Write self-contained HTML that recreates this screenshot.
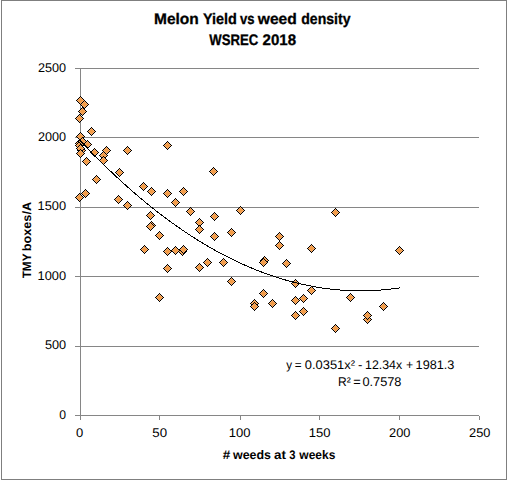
<!DOCTYPE html>
<html><head><meta charset="utf-8"><title>Melon Yield vs weed density</title><style>
html,body{margin:0;padding:0;background:#fff;width:507px;height:480px;overflow:hidden}
body{position:relative}
text{font-family:'Liberation Sans',sans-serif;text-rendering:geometricPrecision}
</style></head><body>
<svg width="507" height="480" viewBox="0 0 507 480" style="position:absolute;left:0;top:0;display:block"><defs><g id="m"><path d="M0 -2h1v1h-1zM-1 -1h1v1h-1zM0 -1h1v1h-1zM1 -1h1v1h-1zM-2 0h1v1h-1zM-1 0h1v1h-1zM0 0h1v1h-1zM1 0h1v1h-1zM2 0h1v1h-1zM-1 1h1v1h-1zM0 1h1v1h-1zM1 1h1v1h-1zM0 2h1v1h-1z" fill="#F29C48"/><path d="M0 -3h1v1h-1zM-1 -2h1v1h-1zM1 -2h1v1h-1zM-2 -1h1v1h-1zM2 -1h1v1h-1zM-3 0h1v1h-1zM3 0h1v1h-1zM-2 1h1v1h-1zM2 1h1v1h-1zM-1 2h1v1h-1zM1 2h1v1h-1zM0 3h1v1h-1z" fill="#F5AE70"/><path d="M0 -4h1v1h-1zM-1 -3h1v1h-1zM1 -3h1v1h-1zM-2 -2h1v1h-1zM2 -2h1v1h-1zM-3 -1h1v1h-1zM3 -1h1v1h-1zM-4 0h1v1h-1zM4 0h1v1h-1zM-3 1h1v1h-1zM3 1h1v1h-1zM-2 2h1v1h-1zM2 2h1v1h-1zM-1 3h1v1h-1zM1 3h1v1h-1zM0 4h1v1h-1z" fill="#000000"/></g></defs><rect x="0" y="0" width="507" height="480" fill="#fff"/><g shape-rendering="crispEdges" fill="#7f7f7f"><rect x="1" y="0" width="506" height="1"/><rect x="1" y="479" width="506" height="1"/><rect x="1" y="0" width="1" height="480"/><rect x="506" y="0" width="1" height="480"/></g><g shape-rendering="crispEdges" fill="#868686"><rect x="75" y="68" width="404" height="1"/><rect x="75" y="137" width="404" height="1"/><rect x="75" y="207" width="404" height="1"/><rect x="75" y="276" width="404" height="1"/><rect x="75" y="346" width="404" height="1"/><rect x="75" y="415" width="404" height="1"/><rect x="80" y="68" width="1" height="352"/><rect x="159" y="416" width="1" height="4"/><rect x="240" y="416" width="1" height="4"/><rect x="319" y="416" width="1" height="4"/><rect x="399" y="416" width="1" height="4"/><rect x="479" y="416" width="1" height="4"/></g><g><use href="#m" x="80" y="100"/><use href="#m" x="84" y="104"/><use href="#m" x="82" y="111"/><use href="#m" x="79" y="118"/><use href="#m" x="91" y="131"/><use href="#m" x="80" y="136"/><use href="#m" x="79" y="143"/><use href="#m" x="80" y="144"/><use href="#m" x="79" y="145"/><use href="#m" x="82" y="141"/><use href="#m" x="87" y="144"/><use href="#m" x="81" y="150"/><use href="#m" x="80" y="148"/><use href="#m" x="80" y="153"/><use href="#m" x="94" y="152"/><use href="#m" x="106" y="150"/><use href="#m" x="103" y="155"/><use href="#m" x="103" y="160"/><use href="#m" x="86" y="161"/><use href="#m" x="127" y="150"/><use href="#m" x="167" y="145"/><use href="#m" x="213" y="171"/><use href="#m" x="119" y="172"/><use href="#m" x="96" y="179"/><use href="#m" x="85" y="193"/><use href="#m" x="79" y="197"/><use href="#m" x="118" y="199"/><use href="#m" x="127" y="205"/><use href="#m" x="143" y="186"/><use href="#m" x="151" y="191"/><use href="#m" x="167" y="193"/><use href="#m" x="183" y="191"/><use href="#m" x="175" y="202"/><use href="#m" x="190" y="211"/><use href="#m" x="150" y="215"/><use href="#m" x="151" y="225"/><use href="#m" x="150" y="226"/><use href="#m" x="159" y="235"/><use href="#m" x="199" y="222"/><use href="#m" x="199" y="229"/><use href="#m" x="214" y="216"/><use href="#m" x="214" y="236"/><use href="#m" x="240" y="210"/><use href="#m" x="231" y="232"/><use href="#m" x="279" y="236"/><use href="#m" x="279" y="245"/><use href="#m" x="223" y="262"/><use href="#m" x="264" y="260"/><use href="#m" x="263" y="262"/><use href="#m" x="286" y="263"/><use href="#m" x="231" y="281"/><use href="#m" x="263" y="293"/><use href="#m" x="144" y="249"/><use href="#m" x="167" y="251"/><use href="#m" x="175" y="250"/><use href="#m" x="182" y="251"/><use href="#m" x="183" y="249"/><use href="#m" x="167" y="268"/><use href="#m" x="199" y="267"/><use href="#m" x="207" y="262"/><use href="#m" x="159" y="297"/><use href="#m" x="335" y="212"/><use href="#m" x="311" y="248"/><use href="#m" x="295" y="283"/><use href="#m" x="311" y="290"/><use href="#m" x="272" y="303"/><use href="#m" x="295" y="300"/><use href="#m" x="303" y="298"/><use href="#m" x="295" y="315"/><use href="#m" x="303" y="311"/><use href="#m" x="335" y="328"/><use href="#m" x="399" y="250"/><use href="#m" x="350" y="297"/><use href="#m" x="383" y="306"/><use href="#m" x="367" y="319"/><use href="#m" x="367" y="315"/><use href="#m" x="254" y="303"/><use href="#m" x="254" y="306"/></g><polyline points="80.00,140.25 80.80,141.10 81.60,141.95 82.39,142.80 83.19,143.65 83.99,144.50 84.79,145.34 85.59,146.18 86.38,147.02 87.18,147.85 87.98,148.69 88.78,149.52 89.58,150.35 90.37,151.17 91.17,152.00 91.97,152.82 92.77,153.64 93.57,154.45 94.36,155.27 95.16,156.08 95.96,156.89 96.76,157.69 97.56,158.50 98.35,159.30 99.15,160.10 99.95,160.89 100.75,161.69 101.55,162.48 102.34,163.27 103.14,164.06 103.94,164.84 104.74,165.62 105.54,166.40 106.33,167.18 107.13,167.96 107.93,168.73 108.73,169.50 109.53,170.26 110.32,171.03 111.12,171.79 111.92,172.55 112.72,173.31 113.52,174.07 114.31,174.82 115.11,175.57 115.91,176.32 116.71,177.06 117.51,177.81 118.30,178.55 119.10,179.28 119.90,180.02 120.70,180.75 121.50,181.48 122.29,182.21 123.09,182.94 123.89,183.66 124.69,184.38 125.49,185.10 126.28,185.82 127.08,186.53 127.88,187.24 128.68,187.95 129.48,188.66 130.27,189.36 131.07,190.07 131.87,190.77 132.67,191.46 133.47,192.16 134.26,192.85 135.06,193.54 135.86,194.23 136.66,194.91 137.46,195.59 138.25,196.27 139.05,196.95 139.85,197.62 140.65,198.30 141.45,198.97 142.24,199.63 143.04,200.30 143.84,200.96 144.64,201.62 145.44,202.28 146.23,202.94 147.03,203.59 147.83,204.24 148.63,204.89 149.43,205.53 150.22,206.18 151.02,206.82 151.82,207.46 152.62,208.09 153.42,208.73 154.21,209.36 155.01,209.98 155.81,210.61 156.61,211.23 157.41,211.86 158.20,212.47 159.00,213.09 159.80,213.71 160.60,214.32 161.40,214.93 162.19,215.53 162.99,216.14 163.79,216.74 164.59,217.34 165.39,217.94 166.18,218.53 166.98,219.12 167.78,219.71 168.58,220.30 169.38,220.88 170.17,221.47 170.97,222.05 171.77,222.62 172.57,223.20 173.37,223.77 174.16,224.34 174.96,224.91 175.76,225.47 176.56,226.04 177.36,226.60 178.15,227.16 178.95,227.71 179.75,228.26 180.55,228.81 181.35,229.36 182.14,229.91 182.94,230.45 183.74,230.99 184.54,231.53 185.34,232.07 186.13,232.60 186.93,233.13 187.73,233.66 188.53,234.19 189.33,234.71 190.12,235.23 190.92,235.75 191.72,236.27 192.52,236.78 193.32,237.29 194.11,237.80 194.91,238.31 195.71,238.82 196.51,239.32 197.31,239.82 198.10,240.31 198.90,240.81 199.70,241.30 200.50,241.79 201.30,242.28 202.09,242.76 202.89,243.25 203.69,243.73 204.49,244.20 205.29,244.68 206.08,245.15 206.88,245.62 207.68,246.09 208.48,246.55 209.28,247.02 210.07,247.48 210.87,247.94 211.67,248.39 212.47,248.84 213.27,249.30 214.06,249.74 214.86,250.19 215.66,250.63 216.46,251.07 217.26,251.51 218.05,251.95 218.85,252.38 219.65,252.81 220.45,253.24 221.25,253.67 222.04,254.09 222.84,254.52 223.64,254.93 224.44,255.35 225.24,255.77 226.03,256.18 226.83,256.59 227.63,256.99 228.43,257.40 229.23,257.80 230.02,258.20 230.82,258.60 231.62,258.99 232.42,259.38 233.22,259.77 234.01,260.16 234.81,260.55 235.61,260.93 236.41,261.31 237.21,261.69 238.00,262.06 238.80,262.44 239.60,262.81 240.40,263.17 241.20,263.54 241.99,263.90 242.79,264.26 243.59,264.62 244.39,264.98 245.19,265.33 245.98,265.68 246.78,266.03 247.58,266.38 248.38,266.72 249.18,267.06 249.97,267.40 250.77,267.74 251.57,268.07 252.37,268.40 253.17,268.73 253.96,269.06 254.76,269.38 255.56,269.70 256.36,270.02 257.16,270.34 257.95,270.65 258.75,270.97 259.55,271.27 260.35,271.58 261.15,271.89 261.94,272.19 262.74,272.49 263.54,272.79 264.34,273.08 265.14,273.37 265.93,273.66 266.73,273.95 267.53,274.24 268.33,274.52 269.13,274.80 269.92,275.08 270.72,275.35 271.52,275.63 272.32,275.90 273.12,276.16 273.91,276.43 274.71,276.69 275.51,276.95 276.31,277.21 277.11,277.47 277.90,277.72 278.70,277.97 279.50,278.22 280.30,278.47 281.10,278.71 281.89,278.95 282.69,279.19 283.49,279.43 284.29,279.66 285.09,279.89 285.88,280.12 286.68,280.35 287.48,280.57 288.28,280.80 289.08,281.01 289.87,281.23 290.67,281.45 291.47,281.66 292.27,281.87 293.07,282.08 293.86,282.28 294.66,282.48 295.46,282.68 296.26,282.88 297.06,283.07 297.85,283.27 298.65,283.46 299.45,283.65 300.25,283.83 301.05,284.01 301.84,284.19 302.64,284.37 303.44,284.55 304.24,284.72 305.04,284.89 305.83,285.06 306.63,285.23 307.43,285.39 308.23,285.55 309.03,285.71 309.82,285.86 310.62,286.02 311.42,286.17 312.22,286.32 313.02,286.46 313.81,286.61 314.61,286.75 315.41,286.89 316.21,287.03 317.01,287.16 317.80,287.29 318.60,287.42 319.40,287.55 320.20,287.67 321.00,287.79 321.79,287.91 322.59,288.03 323.39,288.14 324.19,288.26 324.99,288.37 325.78,288.47 326.58,288.58 327.38,288.68 328.18,288.78 328.98,288.88 329.77,288.97 330.57,289.07 331.37,289.16 332.17,289.25 332.97,289.33 333.76,289.41 334.56,289.49 335.36,289.57 336.16,289.65 336.96,289.72 337.75,289.79 338.55,289.86 339.35,289.93 340.15,289.99 340.95,290.05 341.74,290.11 342.54,290.17 343.34,290.22 344.14,290.27 344.94,290.32 345.73,290.37 346.53,290.41 347.33,290.45 348.13,290.49 348.93,290.53 349.72,290.56 350.52,290.59 351.32,290.62 352.12,290.65 352.92,290.67 353.71,290.70 354.51,290.72 355.31,290.73 356.11,290.75 356.91,290.76 357.70,290.77 358.50,290.78 359.30,290.78 360.10,290.79 360.90,290.79 361.69,290.78 362.49,290.78 363.29,290.77 364.09,290.76 364.89,290.75 365.68,290.74 366.48,290.72 367.28,290.70 368.08,290.68 368.88,290.65 369.67,290.63 370.47,290.60 371.27,290.57 372.07,290.53 372.87,290.50 373.66,290.46 374.46,290.42 375.26,290.37 376.06,290.33 376.86,290.28 377.65,290.23 378.45,290.17 379.25,290.12 380.05,290.06 380.85,290.00 381.64,289.93 382.44,289.87 383.24,289.80 384.04,289.73 384.84,289.66 385.63,289.58 386.43,289.50 387.23,289.42 388.03,289.34 388.83,289.26 389.62,289.17 390.42,289.08 391.22,288.99 392.02,288.89 392.82,288.79 393.61,288.69 394.41,288.59 395.21,288.49 396.01,288.38 396.81,288.27 397.60,288.16 398.40,288.05 399.20,287.93 400.00,287.81" fill="none" stroke="#000" stroke-width="1" shape-rendering="crispEdges"/><g fill="#000000" style="font-family:'Liberation Sans',sans-serif"><text transform="translate(153.987,24.000) scale(1.0130,1.0)" stroke="#000" stroke-width="0.3" font-size="15.3" font-weight="bold">Melon</text><text transform="translate(202.946,24.000) scale(0.9444,1.0)" stroke="#000" stroke-width="0.3" font-size="15.3" font-weight="bold">Yield</text><text transform="translate(239.993,24.000) scale(0.8554,1.0)" stroke="#000" stroke-width="0.3" font-size="15.3" font-weight="bold">vs</text><text transform="translate(257.800,24.000) scale(1.0201,1.0)" stroke="#000" stroke-width="0.3" font-size="15.3" font-weight="bold">weed</text><text transform="translate(301.224,24.000) scale(0.9213,1.0)" stroke="#000" stroke-width="0.3" font-size="15.3" font-weight="bold">density</text><text transform="translate(209.300,45.000) scale(0.8602,1.0)" stroke="#000" stroke-width="0.3" font-size="15.3" font-weight="bold">WSREC</text><text transform="translate(262.508,45.000) scale(0.9842,1.0)" stroke="#000" stroke-width="0.3" font-size="15.3" font-weight="bold">2018</text><text transform="translate(37.972,71.800) scale(1.0047,1.0)" font-size="12.6" font-weight="normal">2500</text><text transform="translate(37.972,140.700) scale(1.0047,1.0)" font-size="12.6" font-weight="normal">2000</text><text transform="translate(37.581,210.000) scale(1.0189,1.0)" font-size="12.6" font-weight="normal">1500</text><text transform="translate(37.581,279.600) scale(1.0189,1.0)" font-size="12.6" font-weight="normal">1000</text><text transform="translate(44.895,349.000) scale(1.0100,1.0)" font-size="12.6" font-weight="normal">500</text><text transform="translate(59.317,418.900) scale(0.9667,1.0)" font-size="12.6" font-weight="normal">0</text><text transform="translate(76.083,436.700) scale(1.0333,1.0)" font-size="12.6" font-weight="normal">0</text><text transform="translate(152.273,436.700) scale(1.0538,1.0)" font-size="12.6" font-weight="normal">50</text><text transform="translate(228.664,436.700) scale(1.0359,1.0)" font-size="12.6" font-weight="normal">100</text><text transform="translate(308.664,436.700) scale(1.0359,1.0)" font-size="12.6" font-weight="normal">150</text><text transform="translate(389.065,436.700) scale(1.0164,1.0)" font-size="12.6" font-weight="normal">200</text><text transform="translate(469.065,436.700) scale(1.0164,1.0)" font-size="12.6" font-weight="normal">250</text><text transform="translate(222.731,458.900) scale(1.0769,1.0)" font-size="12.5" font-weight="bold">#</text><text transform="translate(233.000,458.900) scale(0.9940,1.0)" font-size="12.5" font-weight="bold">weeds</text><text transform="translate(274.098,458.900) scale(1.0729,1.0)" font-size="12.5" font-weight="bold">at</text><text transform="translate(289.163,458.900) scale(0.8980,1.0)" font-size="12.5" font-weight="bold">3</text><text transform="translate(299.300,458.900) scale(0.9622,1.0)" font-size="12.5" font-weight="bold">weeks</text><text transform="translate(286.283,368.900) scale(0.9333,1.0)" font-size="12.5" font-weight="normal">y</text><text transform="translate(294.817,368.900) scale(0.9333,1.0)" font-size="12.5" font-weight="normal">=</text><text transform="translate(304.784,368.900) scale(1.0319,1.0)" font-size="12.5" font-weight="normal">0.0351x²</text><text transform="translate(357.972,368.900) scale(1.0560,1.0)" font-size="12.5" font-weight="normal">-</text><text transform="translate(365.010,368.900) scale(0.9897,1.0)" font-size="12.5" font-weight="normal">12.34x</text><text transform="translate(405.885,368.900) scale(0.9833,1.0)" font-size="12.5" font-weight="normal">+</text><text transform="translate(415.584,368.900) scale(1.0157,1.0)" font-size="12.5" font-weight="normal">1981.3</text><text transform="translate(338.042,385.800) scale(0.9583,1.0)" font-size="12.6" font-weight="normal">R²</text><text transform="translate(353.367,385.800) scale(1.0122,1.0)" font-size="12.6" font-weight="normal">=</text><text transform="translate(362.393,385.800) scale(1.0133,1.0)" font-size="12.6" font-weight="normal">0.7578</text><text transform="translate(31.000,278.320) rotate(-90) scale(0.9635,1)" font-size="12.2" font-weight="bold">TMY</text><text transform="translate(31.000,251.179) rotate(-90) scale(1.0383,1)" font-size="12.2" font-weight="bold">boxes/A</text></g></svg>
</body></html>
